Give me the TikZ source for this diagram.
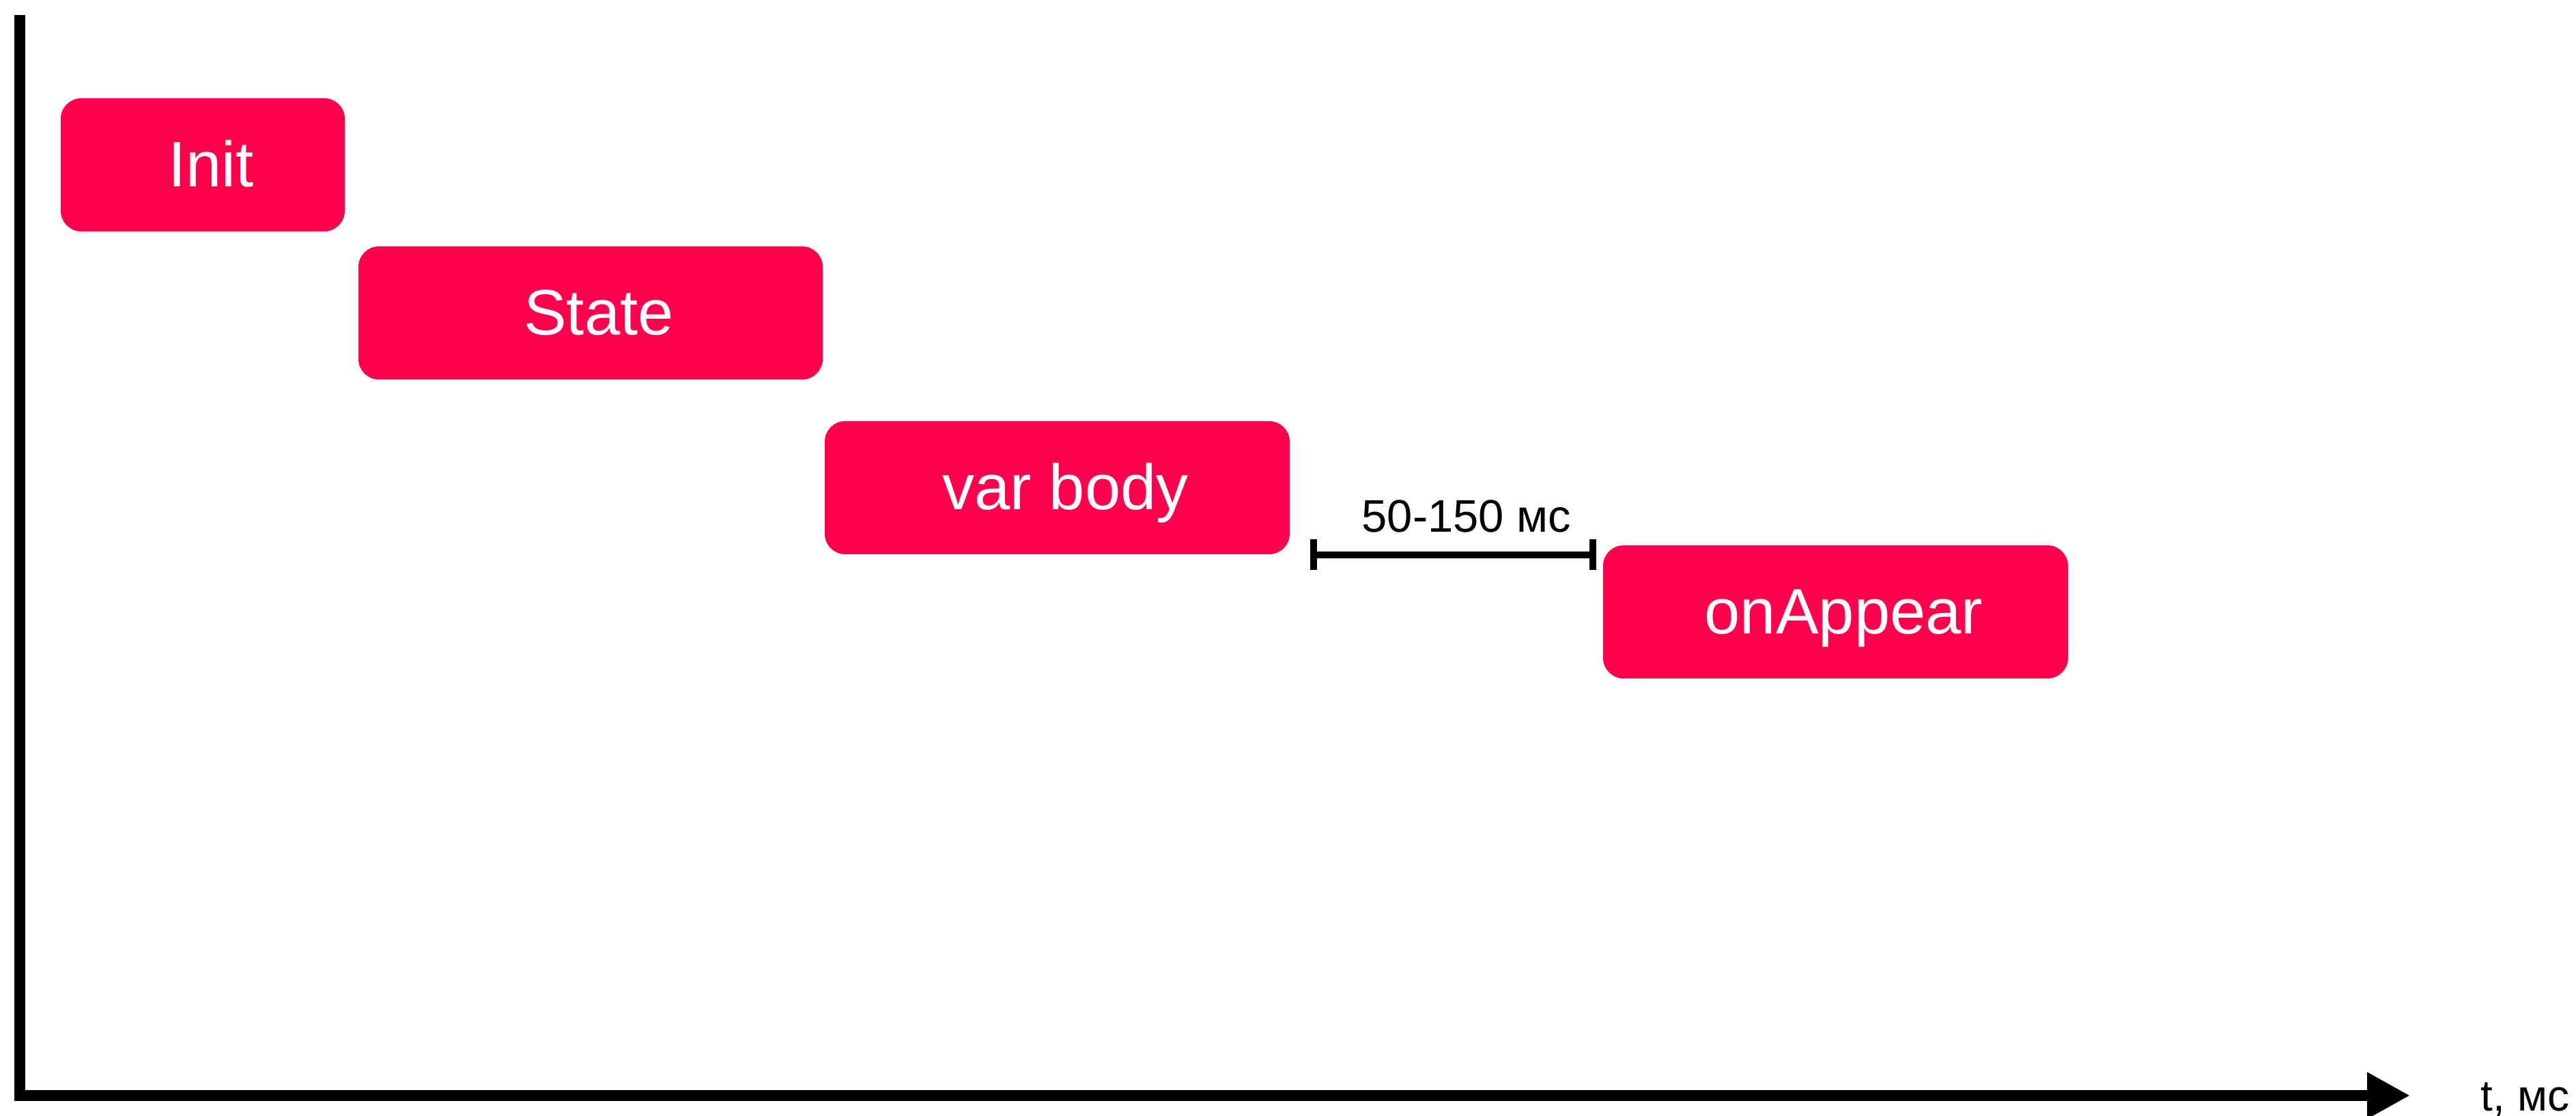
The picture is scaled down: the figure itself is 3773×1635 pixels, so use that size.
\documentclass[tikz,border=0pt]{standalone}
\usepackage{fontspec}
\setmainfont{Liberation Sans}
\usetikzlibrary{arrows.meta}
\definecolor{boxred}{RGB}{255,0,77}
\begin{document}
\begin{tikzpicture}[x=0.25pt,y=-0.25pt,
  phase/.style={fill=boxred, rounded corners=7.5pt, text=white,
    font=\fontsize{23.5pt}{28pt}\selectfont, text height=16pt, text depth=0pt,
    inner sep=0pt, minimum height=48.75pt},
  axisline/.style={line width=4pt, line join=miter, -{Triangle[length=15.75pt,width=16pt]}},
  dimline/.style={line width=2.5pt},
  lbl/.style={font=\fontsize{16.75pt}{20pt}\selectfont, inner sep=0pt}
]
\useasboundingbox (0,0) rectangle (3773,1635);
% axes
\coordinate (ytop) at (29,22);
\coordinate (xend) at (3530,1605);
\draw[axisline] (ytop) |- (xend);
\node[lbl, font=\fontsize{16pt}{19pt}\selectfont, anchor=base west] (tlabel) at (3633,1627) {t, мс};
% phases
\node[phase, minimum width=104pt] (init) at (297,241.5) {\hspace*{6pt}Init};
\node[phase, minimum width=170pt] (state) at (865,458.5) {\hspace*{6pt}State};
\node[phase, minimum width=170.25pt] (body) at (1548.5,714.5) {\hspace*{6pt}var body};
\node[phase, minimum width=170.25pt] (appear) at (2688.5,896.5) {\hspace*{6pt}onAppear};
% dimension
\coordinate (dimL) at (1924,813);
\coordinate (dimR) at (2333,813);
\draw[dimline] (dimL) -- (dimR);
\draw[dimline] (dimL) ++(0,-22.5) -- ++(0,45);
\draw[dimline] (dimR) ++(0,-22.5) -- ++(0,45);
\node[lbl, anchor=base] (dimlabel) at (2148,780) {50-150 мс};
\end{tikzpicture}
\end{document}
